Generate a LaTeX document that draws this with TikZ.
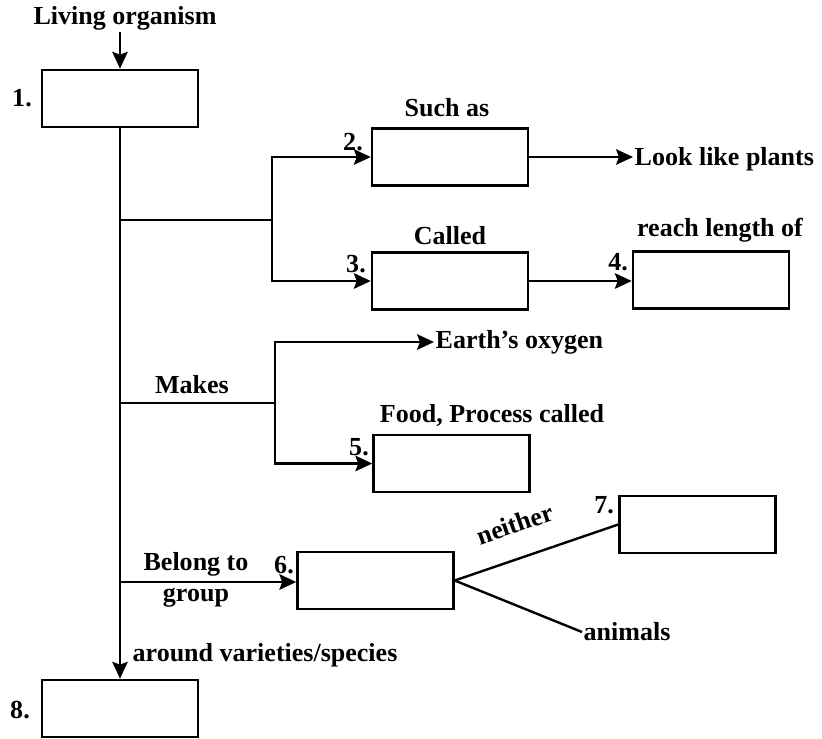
\documentclass[tikz,border=0pt]{standalone}
\usepackage{fontspec}
\setmainfont{Liberation Serif}
\usepackage{tikz}
\usetikzlibrary{arrows.meta,positioning}

\begin{document}
\begin{tikzpicture}[
    x=0.025cm, y=-0.025cm,
    box/.style={draw, line width=1.7pt, minimum width=3.9cm, minimum height=1.43cm},
    txt/.style={font=\fontsize{18.5}{22}\selectfont\bfseries, inner sep=1pt},
    num/.style={font=\fontsize{18.5}{22}\selectfont\bfseries, inner sep=1pt},
    link/.style={line width=1.7pt},
    arr/.style={line width=1.7pt, -{Stealth[length=12pt, width=11pt, inset=2pt]}}
]
\useasboundingbox (0,0) rectangle (822,738);

% boxes
\node[box] (box1) at (120, 98.5) {};
\node[box] (box2) at (450, 157) {};
\node[box] (box3) at (450, 281) {};
\node[box] (box4) at (711, 280) {};
\node[box] (box5) at (451.5, 463.5) {};
\node[box] (box6) at (375.5, 580.5) {};
\node[box] (box7) at (697.5, 524.5) {};
\node[box] (box8) at (120, 708.5) {};

% numbers
\node[num] (n1) at (22, 98) {1.};
\node[num] (n2) at (353, 142) {2.};
\node[num] (n3) at (356, 264) {3.};
\node[num] (n4) at (618, 262) {4.};
\node[num] (n5) at (359, 447) {5.};
\node[num] (n6) at (284, 565) {6.};
\node[num] (n7) at (604, 505) {7.};
\node[num] (n8) at (20, 710) {8.};

% texts
\node[txt] (living) at (125, 18) {Living organism};
\node[txt] (suchas) at (447, 108) {Such as};
\node[txt] (called) at (450, 236) {Called};
\node[txt] (reach) at (720, 230) {reach length of};
\node[txt, anchor=west] (plants) at (633, 159) {Look like plants};
\node[txt, anchor=west] (oxygen) at (434, 342) {Earth's oxygen};
\node[txt] (makes) at (192, 385) {Makes};
\node[txt] (food) at (492, 415) {Food, Process called};
\node[txt, align=center] (belong) at (196, 580) {Belong to\\group};
\node[txt, rotate=19] (neither) at (515, 524) {neither};
\node[txt, anchor=west] (animals) at (582, 632) {animals};
\node[txt, anchor=west] (around) at (131, 655) {around varieties/species};

% junctions
\coordinate (j1) at (120, 220);
\coordinate (j1r) at (272, 220);
\coordinate (j2) at (120, 403);
\coordinate (j2r) at (275, 403);
\coordinate (j3) at (120, 582);

% connectors
\draw[arr] (living.south -| box1.north) -- (box1.north);
\draw[arr] (box1.south) -- (box8.north);
\draw[link] (j1) -- (j1r);
\draw[arr] (j1r) |- (box2.west);
\draw[arr] (j1r) |- (box3.west);
\draw[arr] (box2.east) -- (box2.east -| plants.west);
\draw[arr] (box3.east) -- (box3.east -| box4.west);
\draw[link] (j2) -- (j2r);
\draw[arr] (j2r) |- (oxygen.west);
\draw[arr] (j2r) |- (box5.west);
\draw[arr] (j3) -- (j3 -| box6.west);
\draw[link] (box6.east) -- (box7.west);
\draw[link] (box6.east) -- (animals.west);

\end{tikzpicture}
\end{document}
